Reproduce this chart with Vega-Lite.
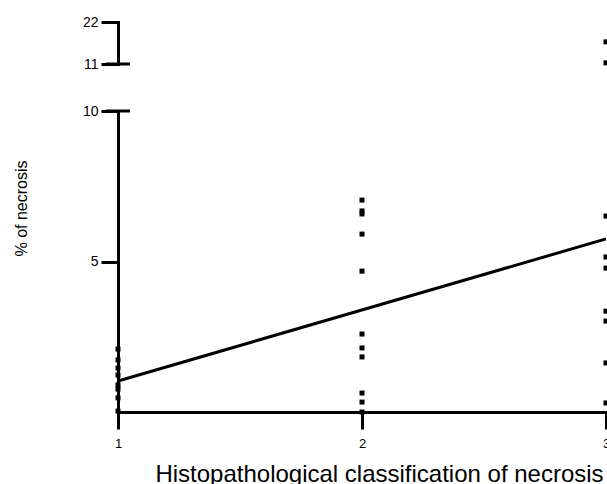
{
  "$schema": "https://vega.github.io/schema/vega-lite/v6.json",
  "padding": {"left": 12, "top": 15, "right": 0, "bottom": 0},
  "background": "white",
  "config": {
    "view": {"stroke": null},
    "font": "Liberation Sans",
    "concat": {"spacing": 33},
    "axis": {
      "grid": false,
      "domainColor": "black",
      "domainWidth": 3,
      "domainCap": "square",
      "tickColor": "black",
      "tickWidth": 3,
      "tickSize": 17,
      "labelColor": "black",
      "labelFont": "Liberation Sans",
      "labelFontSize": 14,
      "titleColor": "black",
      "titleFont": "Liberation Sans",
      "titleFontWeight": "normal"
    }
  },
  "datasets": {
    "pts": [
      {"group": 1, "necrosis": 2.09},
      {"group": 1, "necrosis": 1.73},
      {"group": 1, "necrosis": 1.46},
      {"group": 1, "necrosis": 1.23},
      {"group": 1, "necrosis": 0.9},
      {"group": 1, "necrosis": 0.76},
      {"group": 1, "necrosis": 0.47},
      {"group": 1, "necrosis": 0.03},
      {"group": 2, "necrosis": 7.04},
      {"group": 2, "necrosis": 6.68},
      {"group": 2, "necrosis": 6.58},
      {"group": 2, "necrosis": 5.91},
      {"group": 2, "necrosis": 4.68},
      {"group": 2, "necrosis": 2.59},
      {"group": 2, "necrosis": 2.13},
      {"group": 2, "necrosis": 1.83},
      {"group": 2, "necrosis": 0.63},
      {"group": 2, "necrosis": 0.33},
      {"group": 2, "necrosis": 0.0},
      {"group": 3, "necrosis": 16.8},
      {"group": 3, "necrosis": 11.3},
      {"group": 3, "necrosis": 6.51},
      {"group": 3, "necrosis": 5.15},
      {"group": 3, "necrosis": 4.78},
      {"group": 3, "necrosis": 3.35},
      {"group": 3, "necrosis": 3.02},
      {"group": 3, "necrosis": 1.63},
      {"group": 3, "necrosis": 0.3}
    ],
    "fit": [
      {"group": 1, "necrosis": 1.03},
      {"group": 3, "necrosis": 5.75}
    ],
    "breakUpper": [{"group": 1, "necrosis": 11}],
    "breakLower": [{"group": 1, "necrosis": 10}]
  },
  "vconcat": [
    {
      "width": 488,
      "height": 42,
      "encoding": {
        "x": {"field": "group", "type": "ordinal", "scale": {"type": "point", "domain": [1, 2, 3], "padding": 0}, "axis": null},
        "y": {"field": "necrosis", "type": "quantitative", "scale": {"domain": [11, 22], "nice": false, "zero": false},
              "axis": {"values": [11, 22], "title": null, "labelPadding": 3}}
      },
      "layer": [
        {
          "data": {"name": "pts"},
          "transform": [{"filter": "datum.necrosis > 10"}],
          "mark": {"type": "point", "shape": "square", "filled": true, "size": 25, "color": "black", "opacity": 1}
        },
        {
          "data": {"name": "breakUpper"},
          "mark": {"type": "tick", "orient": "horizontal", "color": "black", "thickness": 3, "size": 24, "opacity": 1}
        }
      ]
    },
    {
      "width": 488,
      "height": 301,
      "encoding": {
        "x": {"field": "group", "type": "ordinal", "scale": {"type": "point", "domain": [1, 2, 3], "padding": 0},
              "axis": {"labelAngle": 0, "title": "Histopathological classification of necrosis",
                       "titleFontSize": 24, "titleX": 261, "labelFontSize": 13, "labelPadding": 8, "titlePadding": 12}},
        "y": {"field": "necrosis", "type": "quantitative", "scale": {"domain": [0, 10], "nice": false},
              "axis": {"values": [5, 10], "title": "% of necrosis", "titleFontSize": 16, "labelPadding": 3,
                       "titleY": 97, "titleX": -97, "titleBaseline": "middle", "titleAlign": "center"}}
      },
      "layer": [
        {
          "data": {"name": "pts"},
          "transform": [{"filter": "datum.necrosis <= 10"}],
          "mark": {"type": "point", "shape": "square", "filled": true, "size": 25, "color": "black", "opacity": 1}
        },
        {
          "data": {"name": "fit"},
          "mark": {"type": "line", "color": "black", "strokeWidth": 3}
        },
        {
          "data": {"name": "breakLower"},
          "mark": {"type": "tick", "orient": "horizontal", "color": "black", "thickness": 3, "size": 24, "opacity": 1}
        }
      ]
    }
  ]
}
